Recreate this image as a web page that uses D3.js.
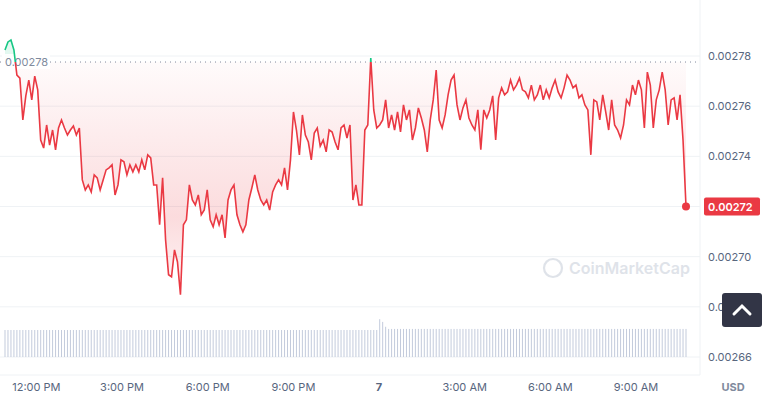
<!DOCTYPE html>
<html><head><meta charset="utf-8">
<script src="https://cdn.jsdelivr.net/npm/d3@7"></script>
<style>body{margin:0;background:#fff;font-family:Inter,"Noto Sans",sans-serif}</style>
</head><body><div id="chart"></div>
<script>
// prices in units of 1e-5 USD, sampled evenly from 10:55 AM to 10:45 AM next day
const prices = [278.24,278.56,278.64,278.24,277.24,277.12,275.45,276.41,277.04,276.25,277.20,276.65,274.65,274.33,275.25,274.45,275.05,274.26,275.13,275.45,275.13,274.85,275.05,275.21,274.85,275.13,273.06,272.66,272.86,272.58,273.26,273.14,272.66,273.06,273.46,273.54,273.66,272.46,272.86,273.86,273.78,273.26,273.66,273.38,273.66,273.38,273.86,273.46,274.06,273.94,272.86,272.86,271.27,273.14,270.67,269.28,269.20,270.27,269.79,268.48,271.27,271.47,272.86,272.26,272.06,272.46,271.67,271.86,272.66,271.47,271.19,271.67,271.27,271.67,270.75,272.26,272.66,272.86,271.67,271.27,270.99,271.27,272.26,272.74,273.26,272.66,272.26,272.06,272.26,271.86,272.58,272.86,273.06,272.86,273.54,272.66,273.86,275.77,275.05,274.06,275.65,274.85,274.57,273.86,274.93,275.13,274.41,274.65,274.18,275.05,274.97,274.57,274.26,275.13,275.25,274.73,275.25,272.26,272.86,272.06,272.06,275.05,275.25,277.92,275.85,275.13,275.25,275.45,276.25,275.13,275.65,275.05,275.77,274.97,276.05,275.45,275.85,274.65,275.13,275.93,275.53,275.05,274.18,275.45,276.25,277.44,275.45,275.13,275.65,276.45,277.04,277.24,276.05,275.45,275.93,276.25,275.53,275.25,275.05,275.85,274.26,275.85,275.53,275.85,276.41,274.65,276.33,276.73,276.45,276.57,277.04,276.65,276.84,277.12,276.65,276.57,276.33,276.84,276.25,276.45,276.84,276.25,276.65,276.33,276.73,277.04,276.57,276.33,276.73,277.24,277.04,276.73,276.84,276.33,276.45,276.05,275.85,274.06,276.25,276.17,275.45,276.45,275.77,275.05,276.25,275.25,275.05,274.73,275.25,276.25,276.05,276.84,276.45,277.04,276.65,275.13,277.36,276.84,275.13,276.25,276.65,277.36,276.65,275.25,276.25,276.33,275.45,276.45,274.65,272.0];
const volumeList = [
 100,100,100,100,100,100,100,100,100,100,100,100,100,100,100,100,100,100,100,100,
 100,100,100,100,100,100,100,100,100,100,100,100,100,100,100,100,100,100,100,100,
 100,100,100,100,100,100,100,100,100,100,100,100,100,100,100,100,100,100,100,100,
 100,100,100,100,100,100,100,100,100,100,100,100,100,100,100,100,100,100,100,100,
 100,100,100,100,100,100,100,100,100,100,100,100,100,100,100,100,100,100,100,100,
 100,100,100,100,100,100,100,100,100,100,100,100,100,100,100,100,100,100,100,100,
 100,100,100,100,100,100,140,130,112,104,104,104,104,104,104,104,104,104,104,104,
 104,104,104,104,104,104,104,104,104,104,104,104,104,104,104,104,104,104,104,104,
 104,104,104,104,104,104,104,104,104,104,104,104,104,104,104,104,104,104,104,104,
 104,104,104,104,104,104,104,104,104,104,104,104,104,104,104,104,104,104,104,104,
 104,104,104,104,104,104,104,104,104,104,104,104,104,104,104,104,104,104,104,104,
 104,104,104,104,104,104,104,104,104,104,104,104,104,104,104];
const refPrice = 277.76;
const yTicks = [266, 268, 270, 272, 274, 276, 278];
const xTicks = [0, 3, 6, 9, 12, 15, 18, 21];
const xTickLabels = ["12:00 PM", "3:00 PM", "6:00 PM", "9:00 PM", "7", "3:00 AM", "6:00 AM", "9:00 AM"];
const startHour = -1.1, endHour = 22.75;

const W = 762, H = 404, plotR = 700, baseY = 375;
const svg = d3.select("#chart").append("svg").attr("width", W).attr("height", H);

const x = d3.scaleLinear().domain([startHour, endHour]).range([5, 686]);
const y = d3.scaleLinear().domain([266, 278]).range([357, 56]);
const data = prices.map((p, i) => ({t: startHour + (endHour - startHour) * i / (prices.length - 1), p, v: volumeList[i] || 104}));
const last = data[data.length - 1];

// grid
svg.append("g").selectAll("line").data(yTicks).join("line")
  .attr("x1", 0).attr("x2", plotR).attr("y1", d => y(d)).attr("y2", d => y(d))
  .attr("stroke", "#eff2f5");
svg.append("line").attr("x1", plotR).attr("x2", plotR).attr("y1", 0).attr("y2", baseY).attr("stroke", "#eff2f5");
svg.append("line").attr("x1", 0).attr("x2", plotR).attr("y1", baseY).attr("y2", baseY).attr("stroke", "#eff2f5");

// volume
const vy = d3.scaleLinear().domain([0, 100]).range([357, 330]);
svg.append("g").selectAll("rect").data(data).join("rect")
  .attr("x", d => x(d.t) - 0.5).attr("width", 1)
  .attr("y", d => vy(d.v)).attr("height", d => 357 - vy(d.v))
  .attr("fill", "#c3cbdc");

// gradients
const defs = svg.append("defs");
const gr = defs.append("linearGradient").attr("id", "gRed").attr("x1", 0).attr("x2", 0)
  .attr("gradientUnits", "userSpaceOnUse").attr("y1", y(refPrice)).attr("y2", 320);
gr.append("stop").attr("offset", 0).attr("stop-color", "#ea3943").attr("stop-opacity", 0.02);
gr.append("stop").attr("offset", 0.6).attr("stop-color", "#ea3943").attr("stop-opacity", 0.18);
gr.append("stop").attr("offset", 1).attr("stop-color", "#ea3943").attr("stop-opacity", 0);
defs.append("clipPath").attr("id", "above").append("rect").attr("x", 0).attr("y", 0).attr("width", W).attr("height", y(refPrice));
defs.append("clipPath").attr("id", "below").append("rect").attr("x", 0).attr("y", y(refPrice)).attr("width", W).attr("height", H);

const line = d3.line().x(d => x(d.t)).y(d => y(d.p));
const areaBelow = d3.area().x(d => x(d.t)).y0(y(refPrice)).y1(d => y(d.p));
svg.append("path").datum(data).attr("d", areaBelow).attr("fill", "url(#gRed)").attr("clip-path", "url(#below)");
svg.append("path").datum(data).attr("d", areaBelow).attr("fill", "#16c784").attr("fill-opacity", 0.12).attr("clip-path", "url(#above)");

// reference dotted line
svg.append("line").attr("x1", 0).attr("x2", plotR).attr("y1", y(refPrice)).attr("y2", y(refPrice))
  .attr("stroke", "#808a9d").attr("stroke-dasharray", "1,4");
svg.append("rect").attr("x", 2).attr("y", y(refPrice) - 8).attr("width", 48).attr("height", 15).attr("fill", "#fff").attr("opacity", 0.9);
svg.append("text").attr("x", 5).attr("y", y(refPrice) + 4).attr("font-size", 11).attr("fill", "#808a9d").text("0.00278");

svg.append("path").datum(data).attr("d", line).attr("fill", "none").attr("stroke", "#ea3943").attr("stroke-width", 1.6).attr("clip-path", "url(#below)");
svg.append("path").datum(data).attr("d", line).attr("fill", "none").attr("stroke", "#16c784").attr("stroke-width", 1.6).attr("clip-path", "url(#above)");

svg.append("circle").attr("cx", x(last.t)).attr("cy", y(last.p)).attr("r", 4).attr("fill", "#ea3943");

// right axis (the tick hidden behind the last-price badge is skipped)
svg.append("g").selectAll("text").data(yTicks.filter(d => Math.abs(y(d) - y(last.p)) > 12)).join("text")
  .attr("x", 708).attr("y", d => y(d) + 4).attr("font-size", 11).attr("fill", "#58667e")
  .text(d => (d / 100000).toFixed(5));
svg.append("rect").attr("x", 704).attr("y", y(last.p) - 9).attr("width", 56).attr("height", 18).attr("rx", 2).attr("fill", "#ea3943");
svg.append("text").attr("x", 708).attr("y", y(last.p) + 4).attr("font-size", 11).attr("font-weight", 600).attr("fill", "#fff").text((last.p / 100000).toFixed(5));

// x axis
svg.append("g").selectAll("text").data(xTicks).join("text")
  .attr("x", d => x(d)).attr("y", 391).attr("text-anchor", "middle").attr("font-size", 11)
  .attr("fill", "#58667e").attr("font-weight", (d, i) => i === 4 ? 700 : 400)
  .text((d, i) => xTickLabels[i]);
svg.append("text").attr("x", 733).attr("y", 391).attr("text-anchor", "middle").attr("font-size", 11)
  .attr("font-weight", 700).attr("fill", "#808a9d").text("USD");

// watermark
const wm = svg.append("g").attr("transform", "translate(553,268)").attr("opacity", 0.35);
wm.append("circle").attr("r", 9).attr("fill", "none").attr("stroke", "#a6b0c3").attr("stroke-width", 2.2);
wm.append("text").attr("x", 16).attr("y", 6).attr("font-size", 16).attr("font-weight", 600).attr("fill", "#a6b0c3").text("CoinMarketCap");

// scroll button
svg.append("rect").attr("x", 722).attr("y", 293).attr("width", 40).attr("height", 34).attr("rx", 3).attr("fill", "#323546");
svg.append("path").attr("d", "M734,314 L742,306 L750,314").attr("fill", "none").attr("stroke", "#fff").attr("stroke-width", 3).attr("stroke-linecap", "round");
</script></body></html>
